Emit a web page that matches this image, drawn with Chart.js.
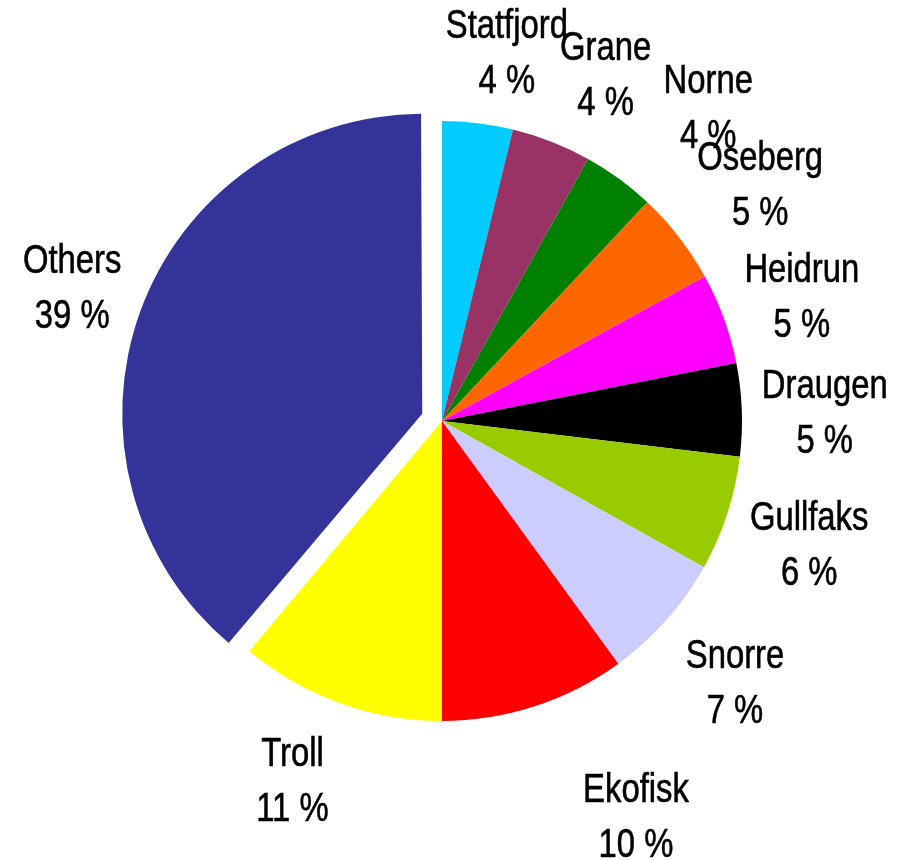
<!DOCTYPE html>
<html>
<head>
<meta charset="utf-8">
<title>Produccion por campo</title>
<script src="https://cdn.jsdelivr.net/npm/chart.js@4.4.1/dist/chart.umd.min.js"></script>
<style>
  html, body { margin: 0; padding: 0; background: #fff; }
  #grafica { display: block; }
</style>
</head>
<body>
<canvas id="grafica" width="913" height="860"></canvas>
<script>
// datos (porcentaje de cada campo)
var campos = ['Statfjord', 'Grane', 'Norne', 'Oseberg', 'Heidrun', 'Draugen', 'Gullfaks', 'Snorre', 'Ekofisk', 'Troll', 'Others'];
var porcentajes = [3.8, 4.3, 3.9, 5.0, 4.9, 5.0, 6.2, 6.9, 10.0, 11.1, 38.9];
var colores = ['#00CCFF', '#993366', '#008000', '#FF6600', '#FF00FF', '#000000', '#99CC00', '#CCCCFF', '#FF0000', '#FFFF00', '#333399'];

// miro si existe la fuente angosta, si no uso la normal comprimida
function hayFuente(nombre) {
    var c = document.createElement('canvas').getContext('2d');
    var prueba = 'Statfjord Others 39 %';
    c.font = '40px monospace';
    var a = c.measureText(prueba).width;
    c.font = '40px "' + nombre + '", monospace';
    var b = c.measureText(prueba).width;
    return a !== b;
}
var fuenteAngosta = hayFuente('Liberation Sans Narrow');

function escribir(ctx, txt, x, y) {
    ctx.save();
    ctx.translate(x, y);
    if (!fuenteAngosta) {
        ctx.scale(0.82, 1);
    }
    ctx.fillText(txt, 0, 0);
    ctx.strokeText(txt, 0, 0);
    ctx.restore();
}

// el offset de Chart.js agranda el radio del trozo separado, se lo devuelvo
var ajusteRadio = {
    id: 'ajusteRadio',
    afterDatasetUpdate: function(chart, args) {
        args.meta.data.forEach(function(arc) {
            var off = ((arc.options && arc.options.offset) || 0) / 4;
            if (off) {
                var fix = 1 - Math.sin(Math.min(Math.PI, arc.circumference));
                arc.outerRadius = arc.outerRadius - off * fix;
            }
        });
    }
};

// etiquetas afuera de la torta: nombre y porcentaje
var etiquetasPlugin = {
    id: 'etiquetas',
    afterDatasetsDraw: function(chart, args, opts) {
        var ctx = chart.ctx;
        var meta = chart.getDatasetMeta(0);
        var radio = meta.controller.outerRadius;
        ctx.save();
        ctx.fillStyle = '#000';
        ctx.strokeStyle = '#000';
        ctx.lineWidth = 0.6;
        ctx.textAlign = 'center';
        ctx.textBaseline = 'alphabetic';
        ctx.font = fuenteAngosta ? '40px "Liberation Sans Narrow"' : '40px "Liberation Sans", Arial, sans-serif';
        meta.data.forEach(function(arc, i) {
            var p = arc.getProps(['x', 'y', 'startAngle', 'endAngle'], true);
            var medio = (p.startAngle + p.endAngle) / 2;
            var dist = radio + opts.distancia;
            var cx = p.x + Math.cos(medio) * dist + opts.ajustes[i][0];
            var cy = p.y + Math.sin(medio) * dist + opts.ajustes[i][1];
            var valor = Math.round(chart.data.datasets[0].data[i]) + ' %';
            escribir(ctx, chart.data.labels[i], cx, cy - 14);
            escribir(ctx, valor, cx, cy + 41);
        });
        ctx.restore();
    }
};

new Chart(document.getElementById('grafica'), {
    type: 'pie',
    data: {
        labels: campos,
        datasets: [{
            data: porcentajes,
            backgroundColor: colores,
            borderWidth: 0,
            offset: function(c) {
                return c.dataIndex === campos.length - 1 ? 84 : 0;
            }
        }]
    },
    options: {
        responsive: false,
        animation: false,
        devicePixelRatio: 1,
        radius: 300,
        layout: { padding: { left: 0, right: 29, top: 0, bottom: 18 } },
        plugins: {
            legend: { display: false },
            tooltip: { enabled: false },
            etiquetas: {
                distancia: 85,
                ajustes: [[19, 13], [23, 11], [39, -3], [14, -1], [-2, 7], [-2, 6], [1, 4], [5, 5], [75, 29], [-18, -3], [-8, -2]]
            }
        }
    },
    plugins: [ajusteRadio, etiquetasPlugin]
});
</script>
</body>
</html>
